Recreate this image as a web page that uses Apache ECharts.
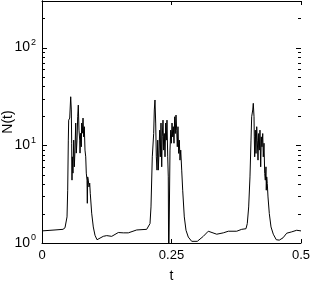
<!DOCTYPE html>
<html>
<head>
<meta charset="utf-8">
<script src="https://cdn.jsdelivr.net/npm/echarts@6/dist/echarts.min.js"></script>
<style>html,body{margin:0;padding:0;background:#fff}#c{width:310px;height:282px}</style>
</head>
<body>
<div id="c"></div>
<script>
const tVals = [0,0.0251,0.0405,0.0444,0.0483,0.0496,0.0508,0.0515,0.0535,0.0554,0.0566,0.0573,0.0579,0.0585,0.0598,0.0612,0.0624,0.0637,0.0651,0.0662,0.0676,0.0689,0.0701,0.0714,0.0728,0.0734,0.0747,0.0759,0.0766,0.0778,0.0792,0.0805,0.0817,0.0830,0.0844,0.0855,0.0869,0.0875,0.0882,0.0894,0.0907,0.0921,0.0932,0.0959,0.0990,0.1023,0.1062,0.1100,0.1183,0.1249,0.1346,0.1473,0.1569,0.1666,0.1828,0.2021,0.2052,0.2085,0.2104,0.2129,0.2156,0.2168,0.2181,0.2195,0.2207,0.2220,0.2234,0.2245,0.2259,0.2272,0.2284,0.2297,0.2311,0.2322,0.2336,0.2349,0.2361,0.2375,0.2388,0.2400,0.2413,0.2427,0.2438,0.2446,0.2465,0.2471,0.2485,0.2496,0.2510,0.2523,0.2535,0.2548,0.2562,0.2573,0.2587,0.2600,0.2612,0.2625,0.2639,0.2651,0.2664,0.2678,0.2697,0.2716,0.2747,0.2780,0.2824,0.2890,0.2998,0.3114,0.3210,0.3373,0.3500,0.3597,0.3759,0.3855,0.3938,0.3963,0.3990,0.4015,0.4035,0.4048,0.4068,0.4079,0.4093,0.4098,0.4106,0.4118,0.4131,0.4145,0.4156,0.4170,0.4183,0.4195,0.4208,0.4222,0.4234,0.4247,0.4261,0.4272,0.4286,0.4299,0.4311,0.4324,0.4330,0.4338,0.4349,0.4363,0.4388,0.4421,0.4465,0.4523,0.4581,0.4653,0.4724,0.4820,0.4917,0.5];
const nVals = [1.33,1.36,1.38,1.43,1.85,3.47,11.3,18.1,19.0,31.4,23.0,10.5,4.4,7.62,5.19,11.3,6.02,8.93,16.9,8.32,11.3,19.6,25.8,14.3,11.3,8.32,13.3,9.66,16.9,13.3,19.0,12.2,15.5,8.93,7.62,5.19,4.4,2.55,4.75,4.4,3.75,4.1,3.23,2.02,1.46,1.2,1.08,1.10,1.17,1.19,1.17,1.28,1.27,1.27,1.36,1.38,1.44,1.58,2.34,7.62,13.2,23.0,29.1,16.9,7.62,5.57,11.3,5.57,8.93,14.3,7.62,16.9,6.02,12.2,18.1,8.93,13.2,7.62,16.9,11.3,18.1,7.62,4.75,0.5,0.5,8.93,14.3,10.5,16.9,12.2,15.5,10.5,19.6,13.2,20.4,14.3,9.66,15.5,8.26,11.3,7.05,8.93,5.57,3.47,1.85,1.35,1.15,1.04,1.04,1.17,1.32,1.23,1.27,1.32,1.32,1.38,1.40,1.58,2.34,4.75,11.3,19.6,23.0,26.9,19.6,12.2,7.62,14.3,8.26,15.5,11.3,7.05,13.2,8.93,14.3,6.02,12.2,9.66,13.2,7.62,10.5,5.15,4.4,6.02,3.47,4.75,4.07,2.96,2.0,1.46,1.23,1.08,1.07,1.13,1.26,1.30,1.35,1.33];
const xTicks = [0, 0.25, 0.5];
const majorYTicks = [1, 10, 100];
const minorYTicks = [2,3,4,5,6,7,8,9,20,30,40,50,60,70,80,90,200];
const yTitle = 'N(t)';

const chart = echarts.init(document.getElementById('c'), null, {renderer: 'canvas'});
const font = 'Liberation Sans';
const lineData = tVals.map((t, i) => [t, nVals[i]]);
function tickSeries(vals, len) {
  return {
    type: 'custom', xAxisIndex: 0, yAxisIndex: 0, silent: true, clip: false, z: 5,
    data: vals.map(v => [0, v]),
    encode: {x: 0, y: 1},
    renderItem: function (params, api) {
      const v = api.value(1);
      const pL = api.coord([0, v]);
      const pR = api.coord([0.5, v]);
      const y = Math.round(pL[1]) + 0.5;
      return {type: 'group', children: [
        {type: 'line', shape: {x1: pL[0], y1: y, x2: pL[0] + len, y2: y}, style: {stroke: '#000', lineWidth: 1}},
        {type: 'line', shape: {x1: pR[0], y1: y, x2: pR[0] - len, y2: y}, style: {stroke: '#000', lineWidth: 1}}
      ]};
    }
  };
}
chart.setOption({
  animation: false,
  backgroundColor: '#fff',
  grid: {left: 42, right: 9, top: 1, bottom: 39, containLabel: false, outerBoundsMode: 'none'},
  graphic: [{
    type: 'text', x: 8, y: 122, rotation: Math.PI / 2,
    style: {text: yTitle, fontFamily: font, fontSize: 14, fill: '#000', align: 'center', verticalAlign: 'middle'}
  }],
  xAxis: [{
    type: 'value', min: 0, max: 0.5, interval: 0.25, position: 'bottom',
    name: 't', nameLocation: 'middle', nameGap: 26,
    nameTextStyle: {fontFamily: font, fontSize: 14, color: '#000'},
    axisLine: {lineStyle: {color: '#000', width: 1}},
    axisTick: {inside: true, length: 4, lineStyle: {color: '#000'}},
    axisLabel: {fontFamily: font, fontSize: 13, color: '#000', margin: 6,
      formatter: v => xTicks.indexOf(v) >= 0 ? String(v) : ''},
    splitLine: {show: false}
  }, {
    type: 'value', min: 0, max: 0.5, interval: 0.25, position: 'top',
    axisLine: {lineStyle: {color: '#000', width: 1}},
    axisTick: {inside: true, length: 4, lineStyle: {color: '#000'}},
    axisLabel: {show: false}, splitLine: {show: false}
  }],
  yAxis: [{
    type: 'log', logBase: 10, min: 1, max: 300, position: 'left',
    axisLine: {show: true, lineStyle: {color: '#000', width: 1}},
    axisTick: {show: false},
    axisLabel: {fontFamily: font, color: '#000', margin: 6,
      formatter: function (v) {
        const e = Math.log10(v);
        if (Math.abs(e - Math.round(e)) > 1e-6) return '';
        return '{b|10}{s|' + Math.round(e) + '}';
      },
      rich: {b: {fontFamily: font, fontSize: 14, color: '#000'},
             s: {fontFamily: font, fontSize: 9, color: '#000', padding: [0, 0, 10, 1]}}},
    splitLine: {show: false}
  }, {
    type: 'log', logBase: 10, min: 1, max: 300, position: 'right',
    axisLine: {show: true, lineStyle: {color: '#000', width: 1}},
    axisTick: {show: false}, axisLabel: {show: false}, splitLine: {show: false}
  }],
  series: [
    {type: 'line', data: lineData, xAxisIndex: 0, yAxisIndex: 0, showSymbol: false, symbol: 'none',
     lineStyle: {color: '#000', width: 1}, clip: true, z: 3},
    tickSeries(majorYTicks, 5),
    tickSeries(minorYTicks, 3)
  ]
});
</script>
</body>
</html>
